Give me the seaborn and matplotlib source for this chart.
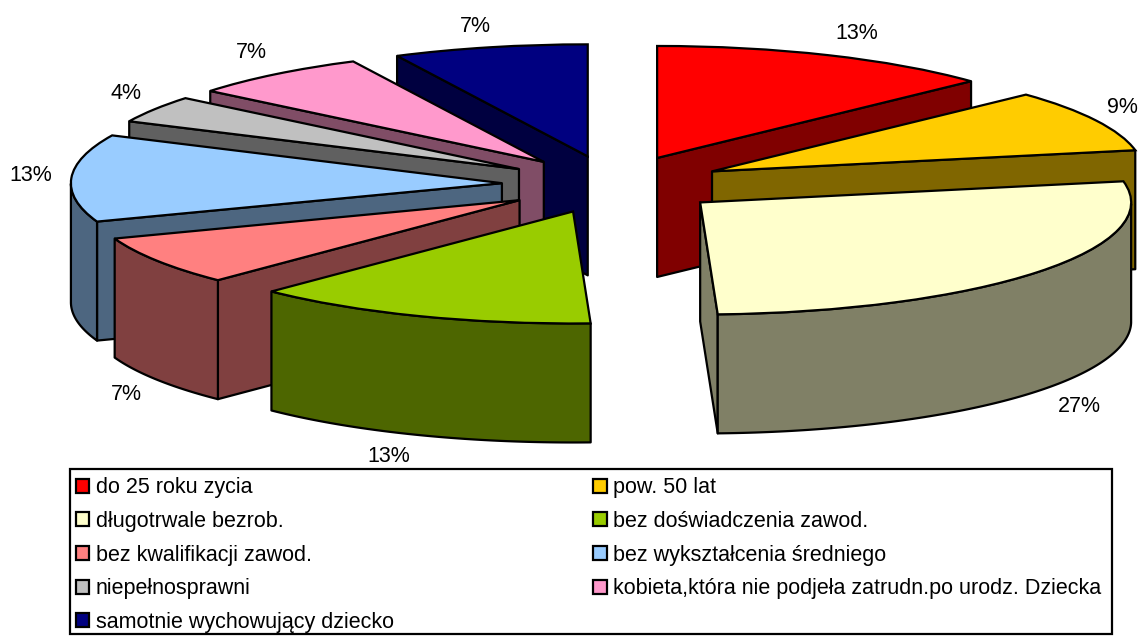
import numpy as np
import matplotlib
matplotlib.use('Agg')
import matplotlib.pyplot as plt
from matplotlib.patches import Patch, Rectangle
import seaborn as sns

# data
categories = ['do 25 roku zycia', 'pow. 50 lat', 'długotrwale bezrob.',
              'bez doświadczenia zawod.', 'bez kwalifikacji zawod.',
              'bez wykształcenia średniego', 'niepełnosprawni',
              'kobieta,która nie podjeła zatrudn.po urodz. Dziecka',
              'samotnie wychowujący dziecko']
# labels show them rounded
shares = [13.0, 9.0, 27.4, 13.0, 7.1, 12.6, 3.9, 6.8, 7.3]
colors = ['#FF0000', '#FFCC00', '#FFFFCC', '#99CC00', '#FF8080',
          '#99CCFF', '#C0C0C0', '#FF99CC', '#000080']
label_pos = [(857, 34), (1122, 108), (1079, 407), (389, 457), (126, 394),
             (31, 176), (126, 94), (251, 53), (475, 27)]

W, H = 1143, 637
CX, CY = 613, 184.5    # pie centre in pixels
RX, RY = 431, 112      # ellipse radii in pixels
DEPTH = 119 / RY       # thickness in y units
FS = 15.5

sns.set_theme(style='white')
plt.rcParams['font.family'] = ['Liberation Sans', 'DejaVu Sans']
palette = sns.color_palette(colors)

fig = plt.figure(figsize=(W / 100, H / 100), dpi=100)
ax = fig.add_axes([0, 0, 1, 1])

wedges, _ = ax.pie(shares, colors=palette, explode=[0.258] * len(shares),
                   startangle=90, counterclock=False,
                   wedgeprops={'edgecolor': 'black', 'linewidth': 1.6, 'zorder': 0})

# squashed axes turn the flat pie into the tilted one
ax.set_aspect('auto')
ax.set_xlim(-CX / RX, (W - CX) / RX)
ax.set_ylim(-(H - CY) / RY, CY / RY)
ax.axis('off')


def rim_point(w, t):
    a = np.deg2rad(t)
    return np.array([w.center[0] + w.r * np.cos(a), w.center[1] + w.r * np.sin(a)])


def draw_side(xs, ys, color, z):
    px = list(xs) + list(xs)[::-1]
    py = list(ys) + [y - DEPTH for y in ys][::-1]
    ax.fill(px, py, facecolor=color, edgecolor='black', linewidth=1.6,
            joinstyle='round', zorder=z)


mids = np.array([((w.theta1 + w.theta2) / 2) % 360 for w in wedges])
# clock angle from the top, slices nearest the back are painted first
clock = (90 - mids) % 360
order = np.argsort(-np.abs(clock - 180))

for rank, i in enumerate(order):
    w = wedges[i]
    z = rank * 3 + 1
    shade = tuple(c * 0.5 for c in palette[i])
    apex = np.array(w.center)
    mid = rim_point(w, (w.theta1 + w.theta2) / 2)
    for t in (w.theta1, w.theta2):
        p = rim_point(w, t)
        a, b = p - apex, mid - apex
        cross = a[0] * b[1] - a[1] * b[0]
        if cross * np.sign(a[0]) > 0:
            draw_side([apex[0], p[0]], [apex[1], p[1]], shade, z)
    ts = np.linspace(w.theta1, w.theta2, 120)
    ts = ts[np.sin(np.deg2rad(ts)) < 0]
    if len(ts) > 1:
        pts = np.array([rim_point(w, t) for t in ts])
        draw_side(pts[:, 0], pts[:, 1], shade, z + 1)
    w.set_zorder(z + 2)

for v, (x, y) in zip(shares, label_pos):
    ax.text((x - CX) / RX, (CY - y) / RY, f'{round(v)}%', ha='center', va='center',
            fontsize=FS, color='black', zorder=100)

# legend box drawn apart so the rows can sit where they do in the original
fig.add_artist(Rectangle((70 / W, 1 - 634 / H), 1042 / W, 165 / H, transform=fig.transFigure,
                         facecolor='white', edgecolor='black', linewidth=1.6, zorder=50))

# legend reads row by row in the original
handles = [Patch(facecolor=c, edgecolor='black', linewidth=1.6) for c in palette]
idx = list(range(0, 9, 2)) + list(range(1, 9, 2))
leg = fig.legend([handles[i] for i in idx], [categories[i] for i in idx],
                 ncol=2, loc='lower left',
                 bbox_to_anchor=(76 / W, 1 - 633 / H), frameon=False,
                 fontsize=FS, handlelength=0.62, handleheight=0.62, handletextpad=0.3,
                 labelspacing=0.59, borderpad=0, borderaxespad=0, columnspacing=9.26,
                 labelcolor='black')
leg.set_zorder(60)

fig.savefig('out.png', dpi=100, facecolor='white')
